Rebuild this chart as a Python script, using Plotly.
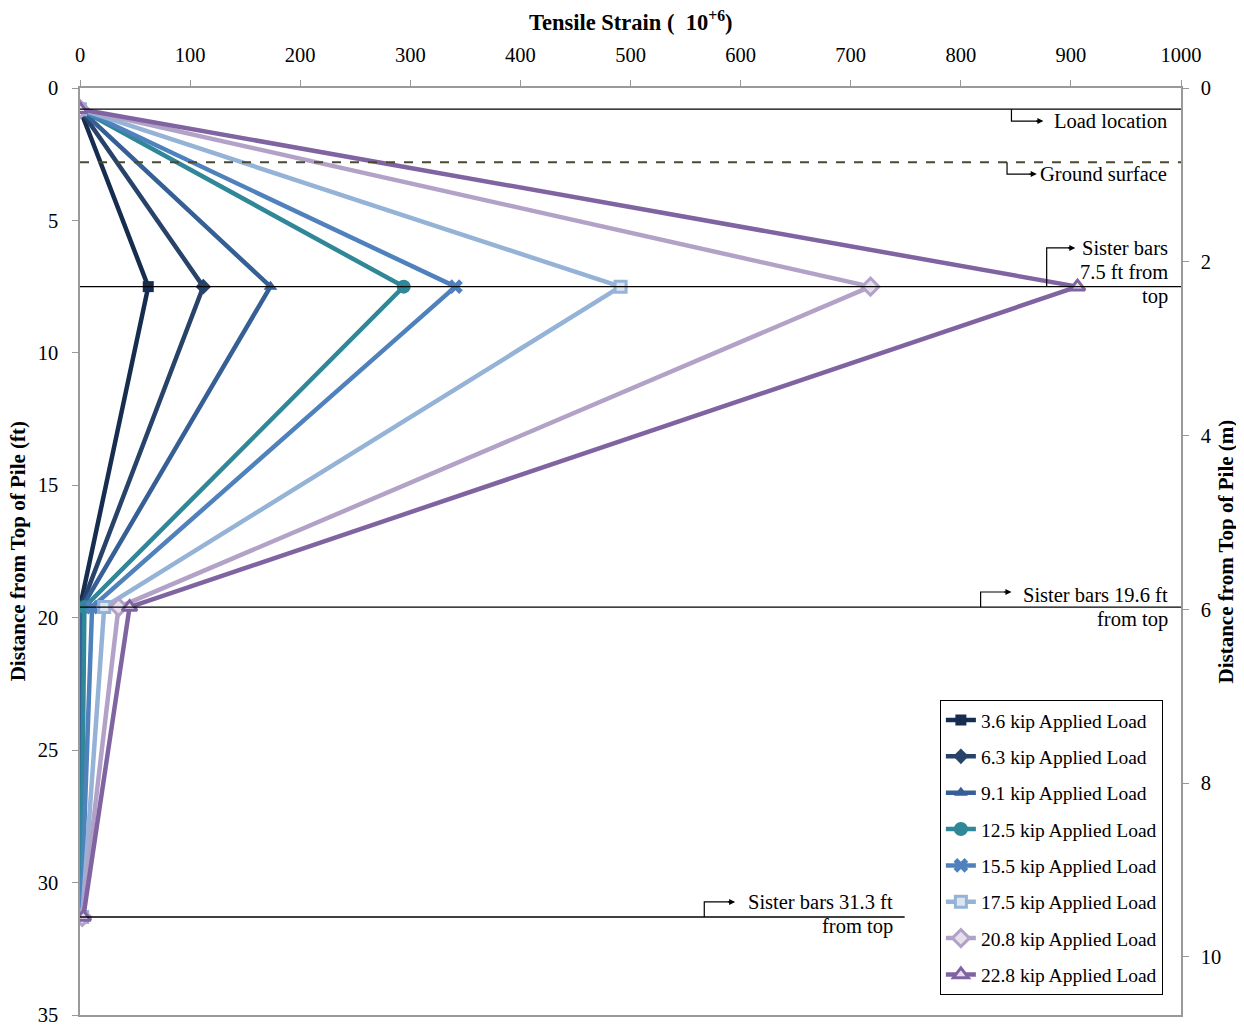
import plotly.graph_objects as go

depths_ft = [0.8, 7.5, 19.6, 31.3]
loads = ["3.6 kip Applied Load", "6.3 kip Applied Load", "9.1 kip Applied Load",
         "12.5 kip Applied Load", "15.5 kip Applied Load", "17.5 kip Applied Load",
         "20.8 kip Applied Load", "22.8 kip Applied Load"]
strain_3_6 = [0, 62, 0, 0]
strain_6_3 = [0, 112, 1, 0]
strain_9_1 = [0, 173, 2, 1]
strain_12_5 = [0, 294, 4, 1]
strain_15_5 = [0, 341, 11, 1]
strain_17_5 = [0, 491, 22, 2]
strain_20_8 = [0, 718, 35, 2]
strain_22_8 = [0, 906, 45, 3]
series = [strain_3_6, strain_6_3, strain_9_1, strain_12_5, strain_15_5,
          strain_17_5, strain_20_8, strain_22_8]

colors = ["#162d4f", "#28436a", "#365f96", "#2f8797", "#4f81bd", "#95b3d7", "#b3a2c7", "#8064a2"]
symbols = ["square", "diamond", "triangle-up", "circle", "x", "square", "diamond", "triangle-up"]
mfill = ["#162d4f", "#28436a", "#365f96", "#2f8797", "#4f81bd", "#dce6f2", "#e6e0ec", "#e6e0ec"]
msize = [11, 12, 12, 14, 13, 11, 13, 13]

FONT = "Liberation Serif"
fig = go.Figure()
for i, (name, vals) in enumerate(zip(loads, series)):
    fig.add_trace(go.Scatter(
        x=vals, y=depths_ft, mode="lines+markers", name=name,
        legendgroup=f"g{i}",
        line=dict(color=colors[i], width=4.5),
        marker=dict(symbol=symbols[i], size=msize[i], color=mfill[i],
                    line=dict(color=colors[i], width=3 if i >= 5 else 0)),
    ))

# invisible trace for the secondary (m) axis
fig.add_trace(go.Scatter(x=[0], y=[0], yaxis="y2", mode="markers",
                         marker=dict(opacity=0), showlegend=False, hoverinfo="skip"))

# reference lines
ref_lines = [(0.8, 1000), (7.5, 1000), (19.6, 1000), (31.3, 749)]
for yv, xe in ref_lines:
    fig.add_shape(type="line", x0=0, x1=xe, y0=yv, y1=yv, xref="x", yref="y",
                  line=dict(color="black", width=1.3))
fig.add_shape(type="line", x0=0, x1=1000, y0=2.8, y1=2.8, xref="x", yref="y",
              line=dict(color="#4a4a30", width=2, dash="dash"))

# elbow connectors: (x, y_start, y_turn, x_end)
elbows = [(846, 0.8, 1.25, 875), (842, 2.8, 3.25, 869), (878, 7.5, 6.04, 904),
          (818, 19.6, 19.03, 846), (567, 31.3, 30.73, 595)]
for xs, ys, yt, xe in elbows:
    fig.add_shape(type="path", path=f"M {xs},{ys} L {xs},{yt} L {xe - 4},{yt}",
                  xref="x", yref="y", line=dict(color="black", width=1.2))
    fig.add_annotation(x=xe, y=yt, ax=xe - 8, ay=yt, xref="x", yref="y", axref="x", ayref="y",
                       text="", showarrow=True, arrowhead=2, arrowsize=1, arrowwidth=1.2,
                       arrowcolor="black")

labels = [(989, 1.25, "Load location"), (989, 3.25, "Ground surface"),
          (990, 6.04, "Sister bars"), (990, 6.95, "7.5 ft from"), (990, 7.89, "top"),
          (990, 19.14, "Sister bars 19.6 ft"), (990, 20.08, "from top"),
          (740, 30.73, "Sister bars 31.3 ft"), (740, 31.67, "from top")]
for xv, yv, txt in labels:
    fig.add_annotation(x=xv, y=yv, xref="x", yref="y", text=txt, showarrow=False,
                       xanchor="right", yanchor="middle", align="right",
                       font=dict(family=FONT, size=20.5, color="black"))

# axis titles
fig.add_annotation(x=0.5, y=1.0723, xref="paper", yref="paper", showarrow=False,
                   text="<b>Tensile Strain (  10<sup>+6</sup>)</b>", xanchor="center", yanchor="middle",
                   font=dict(family=FONT, size=22.5, color="black"))
fig.add_annotation(x=-0.0565, y=0.5, xref="paper", yref="paper", showarrow=False, textangle=-90,
                   text="<b>Distance from Top of Pile (ft)</b>", xanchor="center", yanchor="middle",
                   font=dict(family=FONT, size=21, color="black"))
fig.add_annotation(x=1.04, y=0.5, xref="paper", yref="paper", showarrow=False, textangle=-90,
                   text="<b>Distance from Top of Pile (m)</b>", xanchor="center", yanchor="middle",
                   font=dict(family=FONT, size=21, color="black"))

axis_common = dict(showgrid=False, zeroline=False, showline=True, linecolor="#999999",
                   linewidth=1.5, ticks="outside", ticklen=6, tickcolor="#999999",
                   automargin=False, tickfont=dict(family=FONT, size=20.5, color="black"))

fig.update_layout(
    width=1244, height=1026,
    margin=dict(l=72, r=71, t=80, b=19, autoexpand=False),
    paper_bgcolor="white", plot_bgcolor="white",
    font=dict(family=FONT, size=18, color="black"),
    xaxis=dict(side="top", range=[0, 1000], dtick=100, mirror=True, ticklabelstandoff=10,
               **axis_common),
    yaxis=dict(range=[35, 0], dtick=5, ticklabelstandoff=10, **axis_common),
    yaxis2=dict(overlaying="y", side="right", range=[35 * 0.3048, 0], dtick=2,
                ticklabelstandoff=8, **axis_common),
    legend=dict(x=0.781, y=0.34, xanchor="left", yanchor="top",
                bordercolor="black", borderwidth=1, bgcolor="white",
                font=dict(family=FONT, size=19.5), tracegroupgap=8,
                itemwidth=30),
    showlegend=True,
)

fig.write_html("out.html")
